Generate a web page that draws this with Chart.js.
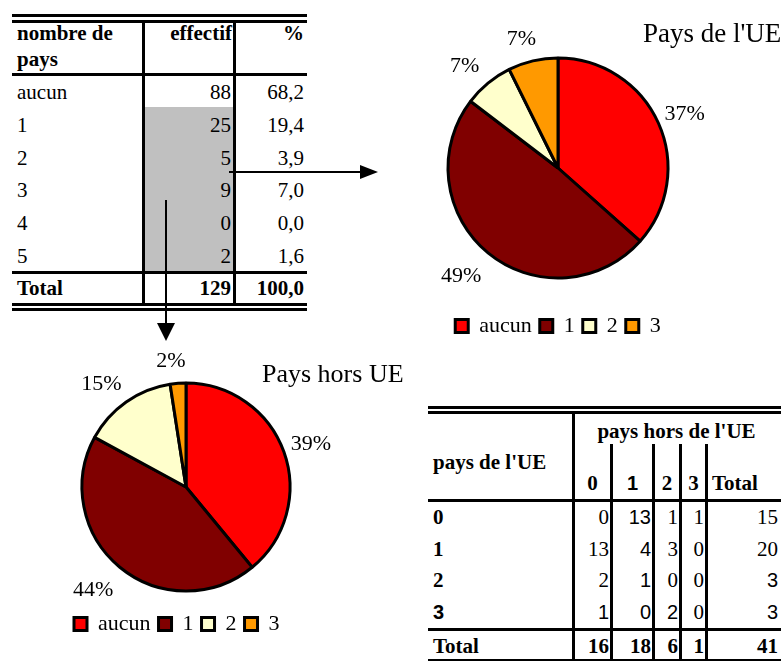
<!DOCTYPE html>
<html lang="fr">
<head>
<meta charset="utf-8">
<title>Nombre de pays</title>
<script src="https://cdn.jsdelivr.net/npm/chart.js@4.4.1/dist/chart.umd.min.js"></script>
<style>
  html, body { margin: 0; padding: 0; background: #fff; }
  body { width: 781px; height: 662px; position: relative; overflow: hidden;
         font-family: 'Times New Roman', 'Liberation Serif', serif; color: #000; }
  .t { position: absolute; font-size: 21px; line-height: 24px; height: 24px; white-space: nowrap; }
  .b { font-weight: bold; }
  .s { font-family: Arial, 'Liberation Sans', sans-serif; font-size: 20px; }
  .r { position: absolute; background: #000; }
  canvas { position: absolute; }
</style>
</head>
<body>
<canvas id="chartUE" width="381" height="350" style="left:400px;top:0"></canvas>
<canvas id="chartHorsUE" width="420" height="320" style="left:0;top:340px"></canvas>
<script>
'use strict';

// tableau 1 : nombre de pays
const nbPays = ['aucun', '1', '2', '3', '4', '5'];
const effectifs = [88, 25, 5, 9, 0, 2];
const pourcents = ['68,2', '19,4', '3,9', '7,0', '0,0', '1,6'];
const totalEffectif = 129;
const totalPourcent = '100,0';

// camemberts
const categories = ['aucun', '1', '2', '3'];
const paysUE = [15, 20, 3, 3];
const paysHorsUE = [16, 18, 6, 1];

// tableau croise
const lignesUE = ['0', '1', '2', '3'];
const colonnesHorsUE = ['0', '1', '2', '3'];
const croise = [
    [0, 13, 1, 1],
    [13, 4, 3, 0],
    [2, 1, 0, 0],
    [1, 0, 2, 0]
];

const colors = ['#FF0000', '#800000', '#FFFFCC', '#FF9900'];
const serif = "'Times New Roman', 'Liberation Serif', serif";

function addText(str, x, y, w, align, cls) {
    const d = document.createElement('div');
    d.className = 't ' + (cls || '');
    d.textContent = str;
    d.style.left = x + 'px';
    d.style.top = (y - 12) + 'px';
    d.style.width = w + 'px';
    d.style.textAlign = align;
    document.body.appendChild(d);
}

function addRule(x, y, w, h, color) {
    const d = document.createElement('div');
    d.className = 'r';
    d.style.left = x + 'px';
    d.style.top = y + 'px';
    d.style.width = w + 'px';
    d.style.height = h + 'px';
    if (color) d.style.background = color;
    document.body.appendChild(d);
}

// --- tableau 1
addRule(145, 107, 88, 164, '#C0C0C0');
addRule(12, 14, 295, 3);
addRule(12, 20, 295, 3);
addRule(12, 73, 295, 3);
addRule(12, 271, 295, 3);
addRule(12, 303, 295, 3);
addRule(12, 308, 295, 3);
addRule(142, 22, 3, 283);
addRule(233, 22, 3, 283);

addText('nombre de', 17, 33, 120, 'left', 'b');
addText('pays', 17, 59, 120, 'left', 'b');
addText('effectif', 140, 33, 92, 'right', 'b');
addText('%', 240, 33, 64, 'right', 'b');

for (let i = 0; i < nbPays.length; i++) {
    const y = 92 + i * 32.8;
    addText(nbPays[i], 17, y, 120, 'left');
    addText(String(effectifs[i]), 150, y, 81, 'right');
    addText(pourcents[i], 240, y, 64, 'right');
}
addText('Total', 17, 288, 120, 'left', 'b');
addText(String(totalEffectif), 150, 288, 81, 'right', 'b');
addText(totalPourcent, 240, 288, 64, 'right', 'b');

// --- tableau croise
addRule(428, 406, 353, 3);
addRule(428, 411, 353, 3);
addRule(428, 499, 353, 3);
addRule(428, 628, 353, 3);
addRule(428, 659, 353, 2);
addRule(572, 413, 3, 247);
const colLines = [610, 652, 679, 705];
colLines.forEach(x => addRule(x, 444, 3, 216));

// cellules en Arial dans l'original
const sansCells = [
    [0, 1, 0, 0, 0],
    [0, 1, 0, 0, 0],
    [0, 1, 0, 0, 1],
    [1, 1, 1, 0, 1]
];
const colLeft = [575, 613, 655, 682, 708];
const colRight = [609, 651, 678, 704, 778];

addText("pays de l'UE", 433, 462, 135, 'left', 'b');
addText("pays hors de l'UE", 575, 431, 203, 'center', 'b');
for (let j = 0; j < colonnesHorsUE.length; j++) {
    addText(colonnesHorsUE[j], colLeft[j], 483, colRight[j] - colLeft[j] + 1, 'center', j === 1 ? 'b s' : 'b');
}
addText('Total', 712, 483, 66, 'left', 'b');

for (let i = 0; i < lignesUE.length; i++) {
    const y = 517 + i * 31.6;
    addText(lignesUE[i], 433, y, 60, 'left', i === 3 ? 'b s' : 'b');
    let rowTotal = 0;
    for (let j = 0; j < colonnesHorsUE.length; j++) {
        rowTotal += croise[i][j];
        addText(String(croise[i][j]), colLeft[j] - 10, y, colRight[j] - colLeft[j] + 10, 'right', sansCells[i][j] ? 's' : '');
    }
    addText(String(rowTotal), 708, y, 70, 'right', sansCells[i][4] ? 's' : '');
}
addText('Total', 433, 646, 100, 'left', 'b');
let grand = 0;
for (let j = 0; j < colonnesHorsUE.length; j++) {
    let colTotal = 0;
    for (let i = 0; i < lignesUE.length; i++) colTotal += croise[i][j];
    grand += colTotal;
    addText(String(colTotal), colLeft[j] - 10, 646, colRight[j] - colLeft[j] + 10, 'right', 'b');
}
addText(String(grand), 708, 646, 70, 'right', 'b');

// --- fleches
const svgNS = 'http://www.w3.org/2000/svg';
const svg = document.createElementNS(svgNS, 'svg');
svg.setAttribute('width', 781);
svg.setAttribute('height', 662);
svg.style.position = 'absolute';
svg.style.left = '0';
svg.style.top = '0';
svg.innerHTML =
    '<line x1="229" y1="172" x2="362" y2="172" stroke="#000" stroke-width="2"/>' +
    '<polygon points="360,165 378,172 360,179" fill="#000"/>' +
    '<line x1="166" y1="200" x2="166" y2="325" stroke="#000" stroke-width="2"/>' +
    '<polygon points="157,323 175,323 166,341" fill="#000"/>';
document.body.appendChild(svg);

// --- camemberts
const pieLabels = {
    id: 'pieLabels',
    afterDatasetsDraw(chart, args, opts) {
        const ctx = chart.ctx;
        const data = chart.data.datasets[0].data;
        const total = data.reduce((a, b) => a + b, 0);
        ctx.save();
        ctx.fillStyle = '#000';
        ctx.font = '22px ' + serif;
        ctx.textAlign = 'center';
        ctx.textBaseline = 'middle';
        chart.getDatasetMeta(0).data.forEach((arc, i) => {
            const p = arc.getProps(['x', 'y', 'startAngle', 'endAngle', 'outerRadius'], true);
            const mid = (p.startAngle + p.endAngle) / 2;
            const label = Math.round(data[i] / total * 100) + '%';
            const w = ctx.measureText(label).width;
            const d = p.outerRadius + opts.gap;
            const sin = Math.sin(mid);
            const cx = p.x + Math.cos(mid) * (d + w / 2) - 5;
            const cy = p.y + sin * (d + 8) + Math.max(sin, 0) * 8;
            ctx.fillText(label, cx, cy);
        });
        ctx.font = opts.titleSize + 'px ' + serif;
        ctx.textAlign = 'left';
        ctx.textBaseline = 'alphabetic';
        ctx.fillText(opts.title, opts.titleX, opts.titleY);
        ctx.restore();
    }
};

function makePie(canvasId, values, radius, padding, align, title) {
    return new Chart(document.getElementById(canvasId), {
        type: 'pie',
        data: {
            labels: categories,
            datasets: [{
                data: values,
                backgroundColor: colors,
                borderColor: '#000',
                borderWidth: 3,
                radius: radius
            }]
        },
        options: {
            responsive: false,
            animation: false,
            layout: { padding: padding },
            plugins: {
                tooltip: { enabled: false },
                legend: {
                    position: 'bottom',
                    align: align,
                    labels: {
                        color: '#000',
                        font: { family: serif, size: 22 },
                        boxWidth: 13,
                        boxHeight: 13,
                        padding: 8
                    }
                },
                pieLabels: title
            }
        },
        plugins: [pieLabels]
    });
}

makePie('chartUE', paysUE, 110,
    { left: 0, right: 65, top: 29, bottom: 3 }, 'center',
    { title: "Pays de l'UE", titleSize: 27, titleX: 243, titleY: 42, gap: 14 });

makePie('chartHorsUE', paysHorsUE, 104,
    { left: 66, right: 114, top: 29, bottom: 15 }, 'start',
    { title: 'Pays hors UE', titleSize: 26, titleX: 262, titleY: 42, gap: 14 });
</script>
</body>
</html>
